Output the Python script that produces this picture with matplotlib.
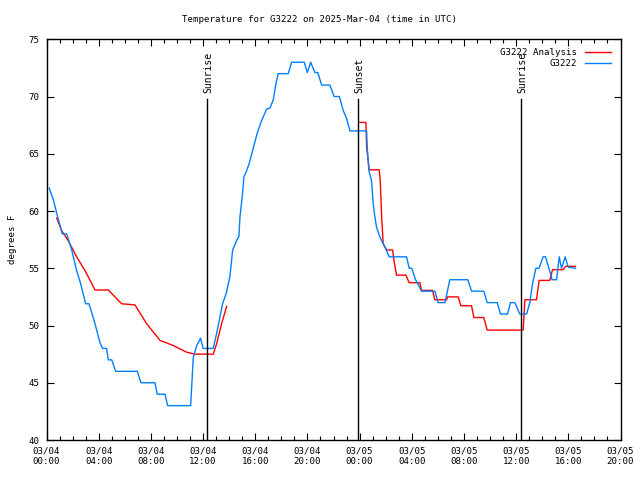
import numpy as np
import matplotlib
matplotlib.use("Agg")
import matplotlib.pyplot as plt
from matplotlib.ticker import MultipleLocator

# ---- data (hours since 03/04 00:00 UTC, degrees F) ----
obs_hours = [0.21, 0.52, 0.9, 1.21, 1.55, 1.93, 2.31, 2.62, 3.0, 3.26, 3.72, 4.1, 4.3, 4.6, 4.74, 5.0,
             5.3, 6.96, 7.24, 8.31, 8.49, 9.08, 9.29, 11.05, 11.25, 11.5, 11.81, 12.0, 12.78, 13.04, 13.5,
             13.8, 14.06, 14.27, 14.57, 14.75, 14.83, 15.03, 15.13, 15.3, 15.54, 15.85, 16.15, 16.49, 16.87,
             17.13, 17.38, 17.59, 17.76, 18.53, 18.79, 19.76, 19.99, 20.25, 20.57, 20.8, 21.09, 21.72, 22.05,
             22.45, 22.74, 23.0, 23.26, 24.54, 24.58, 24.71, 24.92, 25.04, 25.17, 25.3, 25.5, 25.69, 25.94,
             26.27, 27.6, 27.8, 28.0, 28.29, 28.75, 29.77, 30.02, 30.54, 30.92, 32.3, 32.58, 33.52, 33.78,
             34.55, 34.8, 35.34, 35.57, 35.9, 36.28, 36.8, 37.05, 37.26, 37.51, 37.75, 38.07, 38.25, 38.64,
             38.75, 39.1, 39.3, 39.48, 39.76, 39.99, 40.55]
obs_temps = [62, 61, 59.3, 58, 58, 56.6, 54.8, 53.65, 51.9, 51.9, 50.15, 48.5, 48, 48, 47, 47,
             46, 46, 45, 45, 44, 44, 43, 43, 47.2, 48.2, 48.9, 48, 48, 49.3, 51.9,
             52.9, 54.3, 56.6, 57.4, 57.8, 59.5, 61.5, 63, 63.4, 64.15, 65.5, 66.8, 67.9, 68.9,
             69, 69.7, 71.15, 72, 72, 73, 73, 72.1, 73, 72.1, 72.1, 71, 71, 70,
             70, 68.8, 68.1, 67, 67, 65.6, 63.56, 62.6, 60.65, 59.5, 58.6, 57.9, 57.4, 56.85,
             56, 56, 55, 55, 54, 53, 53, 52, 52, 54, 54, 53, 53, 52,
             52, 51, 51, 52, 52, 51, 51, 52, 53.65, 55, 55, 56, 56, 54.5,
             54, 54, 56, 55, 56, 55.1, 55]

ana1_hours = [0.78, 1.16, 1.67, 2.31, 2.95, 3.72, 4.74, 5.76, 6.78, 7.68, 8.7, 9.72, 10.74, 11.38,
              12.78, 13.04, 13.42, 13.81]
ana1_temps = [59.4, 58.3, 57.4, 56.0, 54.8, 53.1, 53.1, 51.9, 51.8, 50.15, 48.7, 48.25, 47.67, 47.5,
              47.5, 48.4, 50.15, 51.67]
ana2_hours = [24.02, 24.48, 24.54, 24.74, 25.5, 25.58, 25.69, 25.81, 26.07, 26.53, 26.63, 26.83, 27.55,
              27.8, 28.62, 28.75, 29.59, 29.77, 30.67, 30.75, 31.56, 31.76, 32.58, 32.76, 33.52, 33.78,
              36.54, 36.67, 37.56, 37.76, 38.58, 38.79, 39.6, 39.8, 40.55]
ana2_temps = [67.74, 67.74, 65.6, 63.6, 63.6, 62.7, 59.5, 57.15, 56.6, 56.6, 55.7, 54.4, 54.4,
              53.74, 53.74, 53.07, 53.07, 52.25, 52.25, 52.5, 52.5, 51.73, 51.73, 50.7, 50.7, 49.6,
              49.6, 52.25, 52.25, 53.94, 53.94, 54.88, 54.88, 55.17, 55.17]

sun_events = ["Sunrise", "Sunset", "Sunrise"]
sun_hours = [12.32, 23.9, 36.38]

xtick_labels = ["03/04\n00:00", "03/04\n04:00", "03/04\n08:00", "03/04\n12:00", "03/04\n16:00",
                "03/04\n20:00", "03/05\n00:00", "03/05\n04:00", "03/05\n08:00", "03/05\n12:00",
                "03/05\n16:00", "03/05\n20:00"]

# ---- figure ----
FONT = "DejaVu Sans Mono"
FS = 6.6
plt.rcParams['font.family'] = [FONT]

fig = plt.figure(figsize=(6.4, 4.8), dpi=100)
ax = fig.add_axes([46.5 / 640, 40 / 480, 574 / 640, 400.7 / 480])

ana_h = ana1_hours + [np.nan] + ana2_hours
ana_t = ana1_temps + [np.nan] + ana2_temps
ax.plot(ana_h, ana_t, color="#ff0000", lw=1.0, label="G3222 Analysis")
ax.plot(obs_hours, obs_temps, color="#0080ff", lw=1.0, label="G3222")

for name, h in zip(sun_events, sun_hours):
    ax.plot([h, h], [40, 69.8], color="black", lw=1.0)
    ax.text(h + 0.08, 70.3, name, rotation=90, ha="center", va="bottom", fontsize=FS + 0.4, family=FONT)

ax.set_xlim(0, 44)
ax.set_ylim(40, 75)
ax.set_xticks(np.arange(0, 45, 4))
ax.set_xticklabels(xtick_labels)
ax.xaxis.set_minor_locator(MultipleLocator(1))
ax.set_yticks(np.arange(40, 76, 5))
ax.tick_params(axis="both", which="both", direction="in", top=True, right=True, labelsize=FS, pad=5)
ax.tick_params(axis="both", which="major", length=5, width=0.8)
ax.tick_params(axis="both", which="minor", length=3, width=0.8)
for s in ax.spines.values():
    s.set_linewidth(1.0)

ax.set_ylabel("degrees F", fontsize=FS, labelpad=8)
fig.text(0.5, 1 - 19 / 480, "Temperature for G3222 on 2025-Mar-04 (time in UTC)",
         ha="center", va="center", fontsize=FS)

leg = ax.legend(loc="upper right", frameon=False, markerfirst=False, fontsize=FS,
                handlelength=2.9, handletextpad=0.8, labelspacing=0.2,
                borderaxespad=0.6, alignment="right")
for t in leg.get_texts():
    t.set_ha("right")

fig.savefig("out.png", dpi=100)
